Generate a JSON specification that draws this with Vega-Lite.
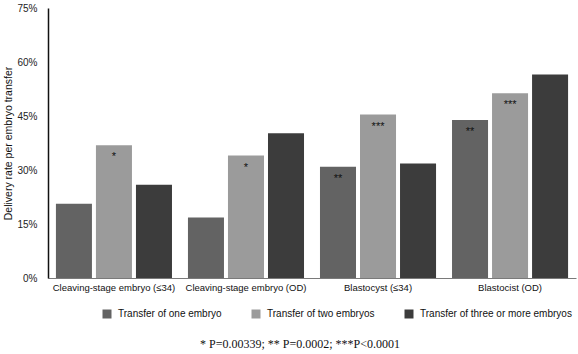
{
  "$schema": "https://vega.github.io/schema/vega-lite/v6.json",
  "autosize": "none",
  "width": 528,
  "height": 270,
  "padding": {"left": 48, "top": 8, "right": 2, "bottom": 76},
  "background": "white",
  "config": {
    "view": {"stroke": null},
    "font": "Liberation Sans"
  },
  "title": {
    "text": "* P=0.00339; ** P=0.0002; ***P<0.0001",
    "orient": "bottom",
    "anchor": "middle",
    "frame": "group",
    "font": "Liberation Serif",
    "fontSize": 12,
    "fontWeight": "normal",
    "color": "#111111",
    "dx": -12,
    "offset": 20
  },
  "data": {
    "values": [
      {"group": "Cleaving-stage embryo (≤34)", "transfer": "Transfer of one embryo", "value": 0.206, "sig": ""},
      {"group": "Cleaving-stage embryo (≤34)", "transfer": "Transfer of two embryos", "value": 0.369, "sig": "*"},
      {"group": "Cleaving-stage embryo (≤34)", "transfer": "Transfer of three or more embryos", "value": 0.259, "sig": ""},
      {"group": "Cleaving-stage embryo (OD)", "transfer": "Transfer of one embryo", "value": 0.168, "sig": ""},
      {"group": "Cleaving-stage embryo (OD)", "transfer": "Transfer of two embryos", "value": 0.340, "sig": "*"},
      {"group": "Cleaving-stage embryo (OD)", "transfer": "Transfer of three or more embryos", "value": 0.402, "sig": ""},
      {"group": "Blastocyst (≤34)", "transfer": "Transfer of one embryo", "value": 0.309, "sig": "**"},
      {"group": "Blastocyst (≤34)", "transfer": "Transfer of two embryos", "value": 0.454, "sig": "***"},
      {"group": "Blastocyst (≤34)", "transfer": "Transfer of three or more embryos", "value": 0.318, "sig": ""},
      {"group": "Blastocist (OD)", "transfer": "Transfer of one embryo", "value": 0.439, "sig": "**"},
      {"group": "Blastocist (OD)", "transfer": "Transfer of two embryos", "value": 0.513, "sig": "***"},
      {"group": "Blastocist (OD)", "transfer": "Transfer of three or more embryos", "value": 0.565, "sig": ""}
    ]
  },
  "encoding": {
    "x": {
      "field": "group",
      "type": "nominal",
      "sort": ["Cleaving-stage embryo (≤34)", "Cleaving-stage embryo (OD)", "Blastocyst (≤34)", "Blastocist (OD)"],
      "scale": {"paddingInner": 0.121, "paddingOuter": 0.06},
      "axis": {
        "title": null,
        "labelAngle": 0,
        "labelFontSize": 9.5,
        "labelColor": "#111111",
        "labelPadding": 4,
        "labelOverlap": false,
        "ticks": false,
        "domainColor": "#7a7a7a",
        "domainWidth": 1
      }
    },
    "xOffset": {
      "field": "transfer",
      "type": "nominal",
      "sort": ["Transfer of one embryo", "Transfer of two embryos", "Transfer of three or more embryos"],
      "scale": {"paddingInner": 0.1, "paddingOuter": 0}
    },
    "y": {
      "field": "value",
      "type": "quantitative",
      "scale": {"domain": [0, 0.75], "nice": false},
      "axis": {
        "title": "Delivery rate per embryo transfer",
        "titleFontSize": 10.5,
        "titleFontWeight": "normal",
        "titleColor": "#111111",
        "titlePadding": 4,
        "values": [0, 0.15, 0.3, 0.45, 0.6, 0.75],
        "format": ".0%",
        "labelFontSize": 10,
        "labelColor": "#222222",
        "labelPadding": 11,
        "ticks": false,
        "grid": false,
        "domainColor": "#111111",
        "domainWidth": 1.5,
        "minExtent": 31,
        "maxExtent": 31
      }
    }
  },
  "layer": [
    {
      "mark": {"type": "bar"},
      "encoding": {
        "color": {
          "field": "transfer",
          "type": "nominal",
          "sort": ["Transfer of one embryo", "Transfer of two embryos", "Transfer of three or more embryos"],
          "scale": {
            "domain": ["Transfer of one embryo", "Transfer of two embryos", "Transfer of three or more embryos"],
            "range": ["#636363", "#9b9b9b", "#3c3c3c"]
          },
          "legend": {
            "title": null,
            "orient": "none",
            "direction": "horizontal",
            "legendX": 54,
            "legendY": 301,
            "symbolType": "square",
            "symbolSize": 81,
            "symbolStrokeWidth": 0,
            "labelFontSize": 10,
            "labelColor": "#111111",
            "labelOffset": 6,
            "columnPadding": 29
          }
        }
      }
    },
    {
      "mark": {"type": "text", "baseline": "middle", "dy": 12, "fontSize": 11, "color": "#111111"},
      "encoding": {
        "text": {"field": "sig", "type": "nominal"}
      }
    }
  ]
}
